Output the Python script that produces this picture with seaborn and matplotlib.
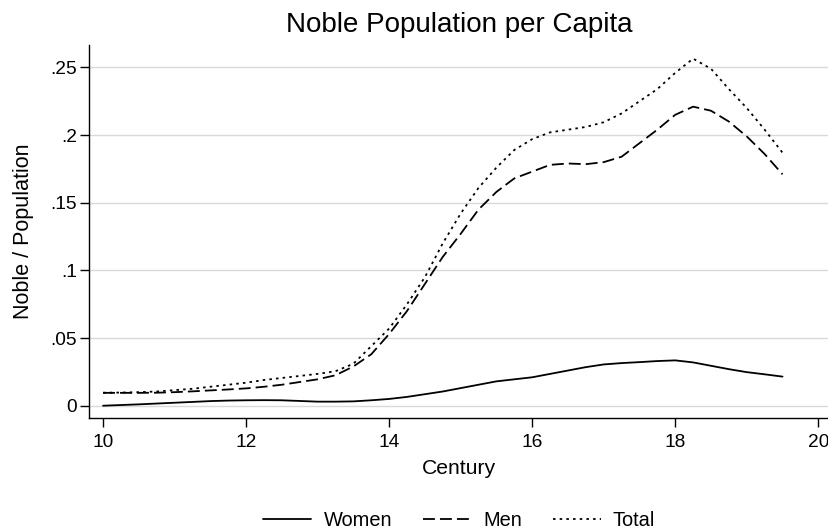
import numpy as np
import pandas as pd
import matplotlib
matplotlib.use("Agg")
import matplotlib.pyplot as plt
import seaborn as sns

century = [10.00, 10.25, 10.50, 10.75, 11.00, 11.25, 11.50, 11.75, 12.00, 12.25,
           12.50, 12.75, 13.00, 13.25, 13.50, 13.75, 14.00, 14.25, 14.50, 14.75,
           15.00, 15.25, 15.50, 15.75, 16.00, 16.25, 16.50, 16.75, 17.00, 17.25,
           17.50, 17.75, 18.00, 18.25, 18.50, 18.75, 19.00, 19.25, 19.50]

women = [0.0000, 0.0005, 0.0010, 0.0016, 0.0022, 0.0028, 0.0034, 0.0038, 0.0040, 0.0041,
         0.0040, 0.0035, 0.0030, 0.0030, 0.0032, 0.0040, 0.0050, 0.0065, 0.0085, 0.0105,
         0.0130, 0.0155, 0.0180, 0.0195, 0.0210, 0.0235, 0.0260, 0.0285, 0.0305, 0.0315,
         0.0322, 0.0330, 0.0335, 0.0320, 0.0295, 0.0270, 0.0248, 0.0232, 0.0215]

men = [0.0095, 0.0095, 0.0095, 0.0096, 0.0100, 0.0106, 0.0113, 0.0120, 0.0128, 0.0140,
       0.0155, 0.0175, 0.0195, 0.0225, 0.0290, 0.0380, 0.0530, 0.0700, 0.0900, 0.1100,
       0.1270, 0.1450, 0.1580, 0.1680, 0.1730, 0.1780, 0.1790, 0.1785, 0.1800, 0.1840,
       0.1940, 0.2040, 0.2150, 0.2210, 0.2180, 0.2100, 0.1990, 0.1860, 0.1710]

total = [0.0096, 0.0097, 0.0100, 0.0105, 0.0115, 0.0125, 0.0140, 0.0155, 0.0170, 0.0190,
         0.0205, 0.0220, 0.0235, 0.0255, 0.0310, 0.0440, 0.0570, 0.0750, 0.0950, 0.1200,
         0.1420, 0.1610, 0.1760, 0.1890, 0.1970, 0.2020, 0.2040, 0.2060, 0.2095, 0.2160,
         0.2250, 0.2340, 0.2460, 0.2565, 0.2490, 0.2340, 0.2200, 0.2040, 0.1870]

series_names = ["Women", "Men", "Total"]
yticks = [0, 0.05, 0.10, 0.15, 0.20, 0.25]
ytick_labels = ["0", ".05", ".1", ".15", ".2", ".25"]
xticks = [10, 12, 14, 16, 18, 20]

df = pd.DataFrame({
    "Century": century * 3,
    "value": women + men + total,
    "series": ["Women"] * len(century) + ["Men"] * len(century) + ["Total"] * len(century),
})

sns.set_style("white")
plt.rcParams["font.family"] = ["Liberation Sans", "DejaVu Sans"]
plt.rcParams["text.color"] = "black"
plt.rcParams["axes.labelcolor"] = "black"
plt.rcParams["xtick.color"] = "black"
plt.rcParams["ytick.color"] = "black"

fig = plt.figure(figsize=(8.29, 5.29), dpi=100)
ax = fig.add_axes([0.1074, 0.2098, 0.8926, 0.7052])

dashes = {"Women": "", "Men": (6.6, 2.8), "Total": (1.4, 2.3)}
sns.lineplot(data=df, x="Century", y="value", style="series", style_order=series_names,
             dashes=dashes, color="black", linewidth=1.3, ax=ax, legend=True)

ax.set_xlim(9.804, 20.15)
ax.set_ylim(-0.0091, 0.2666)
ax.set_yticks(yticks)
ax.set_yticklabels(ytick_labels)
ax.set_xticks(xticks)
ax.yaxis.grid(True, color="#d9d9d9", linewidth=1.0)
ax.xaxis.grid(False)
ax.set_axisbelow(True)
for s in ["top", "right"]:
    ax.spines[s].set_visible(False)
for s in ["left", "bottom"]:
    ax.spines[s].set_color("black")
    ax.spines[s].set_linewidth(1.0)
ax.tick_params(axis="both", which="major", direction="out", length=6.5, width=1.0,
               color="black", labelcolor="black", labelsize=13.8, left=True, bottom=True)
ax.tick_params(axis="y", pad=2)
ax.tick_params(axis="x", pad=5)
ax.set_xlabel("Century", fontsize=15.2, labelpad=6)
ax.set_ylabel("Noble / Population", fontsize=15.5, labelpad=12)
ax.set_title("Noble Population per Capita", fontsize=20, pad=9)

handles, labels = ax.get_legend_handles_labels()
ax.legend_.remove()
fig.legend(handles, labels, loc="lower center", bbox_to_anchor=(0.554, -0.036), ncol=3,
           frameon=False, fontsize=14.4, handlelength=2.4, columnspacing=1.55,
           handletextpad=0.6)

fig.savefig("out.png", dpi=100)
